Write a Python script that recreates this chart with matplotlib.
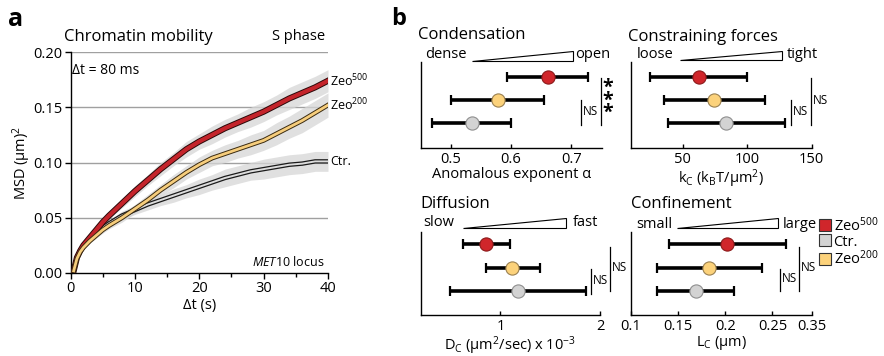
import matplotlib
matplotlib.use("Agg")
import matplotlib.pyplot as plt
import matplotlib.patheffects as pe
from matplotlib.patches import Polygon
from matplotlib.lines import Line2D
from matplotlib.transforms import blended_transform_factory

plt.rcParams['font.family'] = ['Open Sans', 'DejaVu Sans']
plt.rcParams['mathtext.fontset'] = 'custom'
plt.rcParams['mathtext.rm'] = 'Open Sans'
plt.rcParams['mathtext.it'] = 'Open Sans:italic'

# ---- panel a: MSD curves ----
t = [0.5, 1, 1.5, 2, 3, 4, 5, 6, 8, 10, 12, 14, 16, 18, 20, 22, 24, 26, 28, 30, 32, 34, 36, 38, 40]
msd_zeo500 = [0.002, 0.014, 0.020, 0.025, 0.032, 0.039, 0.046, 0.052, 0.063, 0.074, 0.084, 0.094,
              0.103, 0.112, 0.119, 0.125, 0.131, 0.136, 0.141, 0.146, 0.152, 0.158, 0.163, 0.168, 0.174]
msd_zeo200 = [0.002, 0.013, 0.019, 0.023, 0.029, 0.034, 0.039, 0.043, 0.050, 0.058, 0.066, 0.075,
              0.083, 0.091, 0.098, 0.104, 0.108, 0.112, 0.116, 0.120, 0.126, 0.132, 0.138, 0.145, 0.152]
msd_ctr = [0.002, 0.014, 0.020, 0.025, 0.031, 0.036, 0.041, 0.045, 0.052, 0.057, 0.062, 0.066,
           0.070, 0.074, 0.078, 0.082, 0.086, 0.089, 0.092, 0.094, 0.096, 0.098, 0.099, 0.101, 0.101]
err_zeo500 = [0.001, 0.001, 0.0015, 0.002, 0.002, 0.0025, 0.003, 0.003, 0.004, 0.005, 0.005, 0.006,
              0.006, 0.007, 0.007, 0.008, 0.008, 0.008, 0.009, 0.009, 0.009, 0.010, 0.010, 0.010, 0.010]
err_zeo200 = [0.001, 0.001, 0.0015, 0.002, 0.002, 0.0025, 0.003, 0.003, 0.004, 0.004, 0.005, 0.005,
              0.006, 0.006, 0.007, 0.007, 0.008, 0.008, 0.009, 0.009, 0.010, 0.010, 0.011, 0.011, 0.011]
err_ctr = [0.001, 0.001, 0.0015, 0.002, 0.002, 0.0025, 0.003, 0.003, 0.004, 0.004, 0.005, 0.005,
           0.006, 0.006, 0.007, 0.007, 0.008, 0.008, 0.008, 0.009, 0.009, 0.009, 0.009, 0.009, 0.009]

# ---- panel b: fitted parameters (order: Zeo500, Zeo200, Ctr.) ----
alpha_mean = [0.661, 0.578, 0.535]
alpha_lo = [0.593, 0.500, 0.468]
alpha_hi = [0.727, 0.655, 0.600]
kc_mean = [63, 74.6, 83.6]
kc_lo = [25, 35.5, 38.6]
kc_hi = [100, 114, 129]
dc_mean = [0.86, 1.12, 1.18]
dc_lo = [0.62, 0.86, 0.49]
dc_hi = [1.10, 1.40, 1.86]
lc_mean = [0.2016, 0.183, 0.1688]
lc_lo = [0.140, 0.1275, 0.1275]
lc_hi = [0.264, 0.2387, 0.2093]

rows = [3, 2, 1]
face = ['#d0262b', '#fcd27b', '#d3d3d3']
edge = ['#8b1a1a', '#9a8050', '#8f8f8f']

W, H = 884, 356
fig = plt.figure(figsize=(W / 100, H / 100), dpi=100)


def rect(l, r, top, b):
    return [l / W, 1 - b / H, (r - l) / W, (b - top) / H]


def ftxt(x, y, s, **kw):
    fig.text(x / W, 1 - y / H, s, **kw)


# ================= panel a =================
ax = fig.add_axes(rect(70.5, 328, 52, 273))
for v in [0.05, 0.10, 0.15, 0.20]:
    ax.axhline(v, color='#a0a0a0', lw=1.0, zorder=0)

for vals, errs in [(msd_ctr, err_ctr), (msd_zeo500, err_zeo500), (msd_zeo200, err_zeo200)]:
    ax.fill_between(t, [v - e for v, e in zip(vals, errs)], [v + e for v, e in zip(vals, errs)],
                    color='#d6d6d6', alpha=0.75, lw=0, zorder=1)

ax.plot(t, msd_ctr, color='#dcdcdc', lw=1.4, zorder=3,
        path_effects=[pe.Stroke(linewidth=3.2, foreground='#1a1a1a'), pe.Normal()])
ax.plot(t, msd_zeo500, color='#c4242b', lw=3.0, zorder=4,
        path_effects=[pe.Stroke(linewidth=4.4, foreground='#2a0808'), pe.Normal()])
ax.plot(t, msd_zeo200, color='#f6cd7c', lw=2.0, zorder=5,
        path_effects=[pe.Stroke(linewidth=3.4, foreground='#3a2a10'), pe.Normal()])

ax.set_xlim(0, 40)
ax.set_ylim(0, 0.2)
ax.set_xticks([0, 10, 20, 30, 40])
ax.set_xticks([5, 15, 25, 35], minor=True)
ax.set_yticks([0, 0.05, 0.10, 0.15, 0.20])
ax.set_yticklabels(['0.00', '0.05', '0.10', '0.15', '0.20'])
for s in ['top', 'right']:
    ax.spines[s].set_visible(False)
for s in ['left', 'bottom']:
    ax.spines[s].set_linewidth(1.0)
ax.tick_params(direction='out', length=4, width=1.0, labelsize=10.5, pad=2)
ax.tick_params(which='minor', direction='out', length=3, width=1.0)
ax.set_ylabel('MSD (μm)$^\\mathrm{2}$', fontsize=10.5, labelpad=0)
ax.set_xlabel('Δt (s)', fontsize=10.5, labelpad=1)

ax.text(40.3, msd_zeo500[-1], 'Zeo$^\\mathrm{500}$', fontsize=9, va='center', ha='left', clip_on=False)
ax.text(40.3, msd_zeo200[-1], 'Zeo$^\\mathrm{200}$', fontsize=9, va='center', ha='left', clip_on=False)
ax.text(40.3, msd_ctr[-1], 'Ctr.', fontsize=9, va='center', ha='left', clip_on=False)

ftxt(8, 20, 'a', fontsize=18, fontweight='bold', va='center', ha='left')
ftxt(64, 37, 'Chromatin mobility', fontsize=12, va='center', ha='left')
ftxt(325, 37, 'S phase', fontsize=10.5, va='center', ha='right')
ftxt(72, 70, 'Δt = 80 ms', fontsize=10, va='center', ha='left')
ftxt(324, 262, '$\\mathit{MET10}$ locus', fontsize=9, va='center', ha='right')

# ================= panel b =================
ftxt(391, 19, 'b', fontsize=17, fontweight='bold', va='center', ha='left')


def param_panel(r, xlim, xticks, xticklabels, xlabel, mean, lo, hi, ylim):
    a = fig.add_axes(r)
    for y, m, l, h, fc, ec in zip(rows, mean, lo, hi, face, edge):
        a.errorbar([m], [y], xerr=[[m - l], [h - m]], fmt='none', ecolor='black',
                   elinewidth=2.6, capsize=3.5, capthick=1.6, zorder=2)
        a.plot([m], [y], 'o', ms=9.5, mfc=fc, mec=ec, mew=0.8, zorder=3)
    a.set_xlim(*xlim)
    a.set_ylim(*ylim)
    a.set_xticks(xticks)
    a.set_xticklabels(xticklabels)
    a.set_yticks([])
    for s in ['top', 'right']:
        a.spines[s].set_visible(False)
    for s in ['left', 'bottom']:
        a.spines[s].set_linewidth(1.0)
    a.tick_params(direction='in', length=3, width=1.0, labelsize=10.5, pad=3)
    a.set_xlabel(xlabel, fontsize=10.5, labelpad=0)
    return a


def bracket(a, xf, y0, y1, label=None):
    tr = blended_transform_factory(a.transAxes, a.transData)
    a.plot([xf, xf], [y0, y1], color='black', lw=0.9, transform=tr, clip_on=False)
    if label:
        a.text(xf + 0.012, (y0 + y1) / 2 + 0.05, label, fontsize=8.5, transform=tr,
               va='center', ha='left', clip_on=False)


def header(title, xl, yt, left, right, tri, yw):
    ftxt(xl, yt, title, fontsize=12, va='center', ha='left')
    ftxt(left[0], yw, left[1], fontsize=10.5, va='center', ha='left')
    ftxt(right[0], yw, right[1], fontsize=10.5, va='center', ha='left')
    x0, x1, yb, ytop = tri
    fig.patches.append(Polygon([(x0 / W, 1 - yb / H), (x1 / W, 1 - yb / H), (x1 / W, 1 - ytop / H)],
                               closed=True, facecolor='white', edgecolor='black', lw=0.8,
                               transform=fig.transFigure))


# Condensation
a1 = param_panel(rect(420.7, 601.5, 62, 148.3), (0.45, 0.75), [0.5, 0.6, 0.7], ['0.5', '0.6', '0.7'],
                 'Anomalous exponent α', alpha_mean, alpha_lo, alpha_hi, (-0.12, 3.64))
bracket(a1, 0.884, 0.9, 2.0, 'NS')
bracket(a1, 0.995, 0.9, 2.95)
tr1 = blended_transform_factory(a1.transAxes, a1.transData)
a1.text(1.035, 1.95, '*\n*\n*', fontsize=14, fontweight='bold', transform=tr1, va='center',
        ha='center', linespacing=0.5, clip_on=False)
header('Condensation', 418, 35, (425, 'dense'), (575, 'open'), (472, 573, 61, 50.7), 55)

# Constraining forces
a2 = param_panel(rect(631, 811.7, 62, 148.3), (10, 150), [50, 100, 150], ['50', '100', '150'],
                 'k$_\\mathrm{C}$ (k$_\\mathrm{B}$T/μm$^\\mathrm{2}$)', kc_mean, kc_lo, kc_hi, (-0.12, 3.64))
bracket(a2, 0.884, 0.9, 2.0, 'NS')
bracket(a2, 0.995, 0.9, 2.95, 'NS')
header('Constraining forces', 628, 37, (637, 'loose'), (787, 'tight'), (680, 782, 60.3, 50.7), 55)

# Diffusion
a3 = param_panel(rect(420.7, 600, 232, 315), (0.2, 2.0), [1, 2], ['1', '2'],
                 'D$_\\mathrm{C}$ (μm$^\\mathrm{2}$/sec) x 10$^{\\mathrm{-3}}$', dc_mean, dc_lo, dc_hi,
                 (-0.03, 3.53))
bracket(a3, 0.95, 0.85, 1.95, 'NS')
bracket(a3, 1.056, 1.0, 2.9, 'NS')
header('Diffusion', 420, 204, (423, 'slow'), (573, 'fast'), (463, 566, 228.3, 218.3), 223)

# Confinement
lc_max = 0.292
a4 = param_panel(rect(631, 812, 232, 315), (0.1, lc_max), [0.1, 0.15, 0.2, 0.25, lc_max],
                 ['0.1', '0.15', '0.2', '0.25', '0.35'], 'L$_\\mathrm{C}$ (μm)', lc_mean, lc_lo, lc_hi,
                 (-0.03, 3.53))
bracket(a4, 0.823, 1.0, 1.95, 'NS')
bracket(a4, 0.928, 1.0, 2.9, 'NS')
header('Confinement', 631, 204, (636, 'small'), (783, 'large'), (677, 778, 228.3, 218.3), 224)

# legend
handles = [Line2D([], [], marker='s', ls='none', ms=9, mfc=face[0], mec='#333333', mew=0.8),
           Line2D([], [], marker='s', ls='none', ms=9, mfc=face[2], mec='#333333', mew=0.8),
           Line2D([], [], marker='s', ls='none', ms=9, mfc=face[1], mec='#333333', mew=0.8)]
fig.legend(handles, ['Zeo$^\\mathrm{500}$', 'Ctr.', 'Zeo$^\\mathrm{200}$'], loc='upper left',
           bbox_to_anchor=(819 / W, 1 - 216 / H), frameon=False, fontsize=10.5, handlelength=0.8,
           handletextpad=0.2, labelspacing=0.0, borderpad=0, borderaxespad=0)

fig.savefig('out.png', dpi=100)
